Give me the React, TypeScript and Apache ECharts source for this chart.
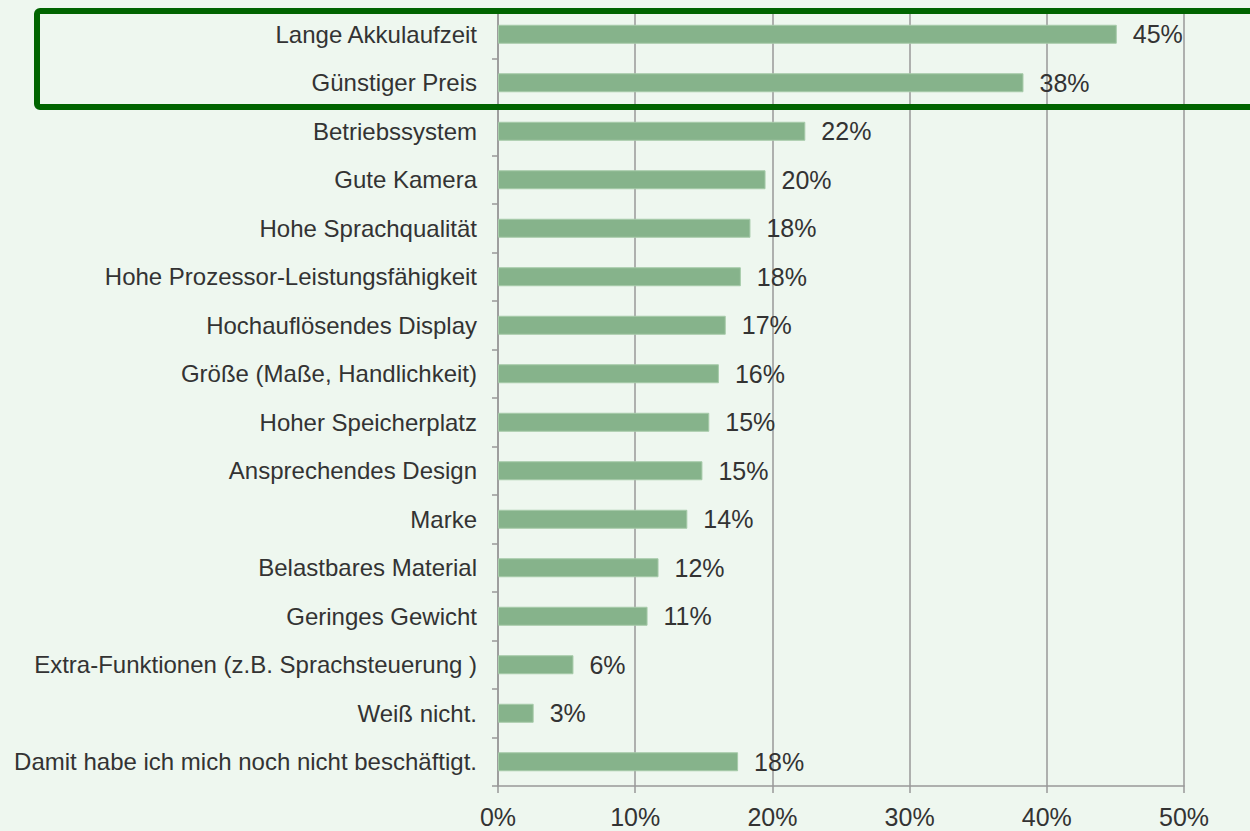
import React, { useEffect, useRef } from "react";
import * as echarts from "echarts";

const categories = [
  "Lange Akkulaufzeit",
  "Günstiger Preis",
  "Betriebssystem",
  "Gute Kamera",
  "Hohe Sprachqualität",
  "Hohe Prozessor-Leistungsfähigkeit",
  "Hochauflösendes Display",
  "Größe (Maße, Handlichkeit)",
  "Hoher Speicherplatz",
  "Ansprechendes Design",
  "Marke",
  "Belastbares Material",
  "Geringes Gewicht",
  "Extra-Funktionen (z.B. Sprachsteuerung )",
  "Weiß nicht.",
  "Damit habe ich mich noch nicht beschäftigt.",
];

const values = [45.1, 38.3, 22.4, 19.5, 18.4, 17.7, 16.6, 16.1, 15.4, 14.9, 13.8, 11.7, 10.9, 5.5, 2.6, 17.5];
const valueLabels = ["45%", "38%", "22%", "20%", "18%", "18%", "17%", "16%", "15%", "15%", "14%", "12%", "11%", "6%", "3%", "18%"];
const xTicks = [0, 10, 20, 30, 40, 50];

export default function App() {
  const ref = useRef<HTMLDivElement>(null);
  useEffect(() => {
    if (!ref.current) return;
    const chart = echarts.init(ref.current, null, { renderer: "svg" });
    const textColor = "#333333";
    const font = "'Liberation Sans', Arial, sans-serif";
    chart.setOption({
      animation: false,
      backgroundColor: "#eef7ef",
      grid: { left: 498, right: 66, top: 10, bottom: 45, containLabel: false },
      xAxis: {
        type: "value",
        min: xTicks[0],
        max: xTicks[xTicks.length - 1],
        interval: 10,
        axisLine: { show: true, lineStyle: { color: "#999999", width: 1.5 } },
        axisTick: { show: true, length: 7, lineStyle: { color: "#999999", width: 1.5 } },
        splitLine: { show: true, lineStyle: { color: "#999999", width: 1.5 } },
        axisLabel: {
          formatter: (v: number) => `${v}%`,
          color: textColor,
          fontSize: 25,
          fontFamily: font,
          margin: 18,
        },
      },
      yAxis: {
        type: "category",
        data: categories,
        inverse: true,
        axisLine: { show: true, lineStyle: { color: "#999999", width: 1.5 } },
        axisTick: { show: true, length: 6, lineStyle: { color: "#999999", width: 1.5 } },
        axisLabel: { color: textColor, fontSize: 24, fontFamily: font, margin: 21 },
      },
      series: [
        {
          type: "bar",
          data: values,
          barWidth: 19,
          itemStyle: { color: "#86b38b", borderColor: "#a6caa9", borderWidth: 1 },
          label: {
            show: true,
            position: "right",
            distance: 16,
            color: textColor,
            fontSize: 25,
            fontFamily: font,
            formatter: (p: any) => valueLabels[p.dataIndex],
          },
        },
      ],
      graphic: [
        {
          type: "rect",
          shape: { x: 37, y: 11, width: 1260, height: 96, r: 3 },
          style: { fill: "none", stroke: "#006400", lineWidth: 6 },
          z: 100,
        },
      ],
    });
    return () => chart.dispose();
  }, []);
  return <div ref={ref} style={{ position: "fixed", left: 0, top: 0, width: 1250, height: 831 }} />;
}
